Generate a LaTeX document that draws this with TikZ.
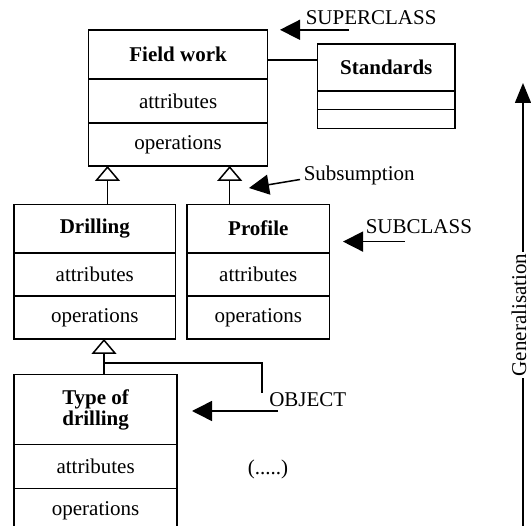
\documentclass[tikz,border=0pt]{standalone}
\usepackage{fontspec}
\setmainfont{Liberation Serif}
\usetikzlibrary{positioning, arrows.meta, calc}
\newcommand{\bigsz}{\fontsize{21}{24}\selectfont}

\begin{document}
\begin{tikzpicture}[
  x=1pt, y=-1pt,
  line width=1.5pt,
  hd/.style={rectangle, draw, outer sep=0pt, inner sep=0pt, align=center,
             font=\bigsz\bfseries},
  cmp/.style={rectangle, draw, outer sep=0pt, inner sep=0pt, below=0pt of #1,
              font=\bigsz},
  inh/.style={-{Triangle[open, length=15pt, width=25pt]}},
  ptr/.style={-{Triangle[length=20pt, width=20pt]}},
  lbl/.style={inner sep=0pt, anchor=base west, font=\bigsz},
]
\useasboundingbox (0,0) rectangle (531,526);
% --- superclass + association ---
\node[hd, minimum width=179, minimum height=49.2] (fw) at (178.1,54.4) {Field work};
\node[cmp=fw, minimum width=179, minimum height=44] (fwattr) {attributes};
\node[cmp=fwattr, minimum width=179, minimum height=43] (fwops) {operations};
\node[hd, minimum width=137.4, minimum height=46.8] (std) at (386.3,67.4) {Standards};
\node[cmp=std, minimum width=137.4, minimum height=18.6] (stdattr) {};
\node[cmp=stdattr, minimum width=137.4, minimum height=19.3] (stdops) {};
\draw (fw.east) ++(0,5.6) coordinate (as) -- (as -| std.west);
% --- subclasses ---
\node[hd, minimum width=161.2, minimum height=48.4] (dr) at (94.8,228.6) {Drilling};
\node[cmp=dr, minimum width=161.2, minimum height=43] (drattr) {attributes};
\node[cmp=drattr, minimum width=161.2, minimum height=43.2] (drops) {operations};
\node[hd, minimum width=142.5, minimum height=48.4] (pr) at (258.3,228.6) {Profile};
\node[cmp=pr, minimum width=142.5, minimum height=43] (prattr) {attributes};
\node[cmp=prattr, minimum width=142.5, minimum height=43.2] (props) {operations};
\draw[inh] ([xshift=12.7]dr.north) coordinate (d1) -- (d1 |- fwops.south);
\draw[inh] ([xshift=-28.6]pr.north) coordinate (p1) -- (p1 |- fwops.south);
% --- object ---
\node[hd, minimum width=162.8, minimum height=69.8, font=\fontsize{21}{21}\selectfont\bfseries]
  (td) at (95.6,409.6) {Type of\\drilling};
\node[cmp=td, minimum width=162.8, minimum height=44] (tdattr) {attributes};
\node[cmp=tdattr, minimum width=162.8, minimum height=44] (tdops) {operations};
\draw[inh] ([xshift=8.4]td.north) coordinate (t1) -- (t1 |- drops.south);
\coordinate (oend) at (261.8,392.6);
\draw ([yshift=11.7]t1) -| (oend);
% --- labels ---
\node[lbl] (sup) at (305,25) {SUPERCLASS};
\coordinate (supend) at (280,29.8);
\draw[ptr] ($(sup.base west)+(44,4.8)$) -- (supend);
\node[lbl] (subs) at (303,181) {Subsumption};
\coordinate (subsend) at (249,188);
\draw[ptr] ($(subs.base west)+(-3,-1.5)$) -- (subsend);
\node[lbl] (subc) at (365,234) {SUBCLASS};
\coordinate (subcend) at (343,241.6);
\draw[ptr] ($(subc.base west)+(39.7,7.6)$) -- (subcend);
\node[lbl] (obj) at (268.5,407) {OBJECT};
\coordinate (objend) at (192,411);
\draw[ptr] ($(obj.base west)+(9.5,4)$) -- (objend);
\node[inner sep=0pt, font=\bigsz] (more) at (268,469) {(.....)};
% --- generalisation axis ---
\coordinate (gbot) at (523,530);
\coordinate (gtop) at (523,83);
\draw[-{Triangle[length=20pt, width=16pt]}] (gbot) -- (gtop);
\node[rotate=90, anchor=base, fill=white, inner xsep=2pt, inner ysep=0pt, font=\bigsz]
  (gen) at (526,315) {Generalisation};
\end{tikzpicture}
\end{document}
